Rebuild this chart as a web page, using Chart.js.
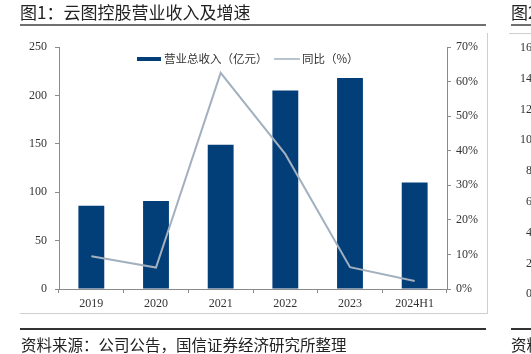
<!DOCTYPE html>
<html>
<head>
<meta charset="utf-8">
<script src="https://cdn.jsdelivr.net/npm/chart.js"></script>
<style>
  body { margin: 0; width: 531px; height: 354px; overflow: hidden; background: #fff; position: relative; font-family: "Noto Sans CJK SC", sans-serif; color: #222; }
  #chart { position: absolute; left: 0; top: 0; }
  .txt { position: absolute; white-space: nowrap; line-height: 1; }
  .hl { position: absolute; }
  .tk { position: absolute; font-family: "Liberation Serif", serif; font-size: 12px; color: #333; text-align: right; width: 30px; line-height: 1; }
</style>
</head>
<body>
<canvas id="chart" width="531" height="354"></canvas>

<!-- titre et source -->
<div class="txt" style="left:20px;top:3px;font-size:17px;">图1：云图控股营业收入及增速</div>
<div class="hl" style="left:20px;top:24px;width:466px;height:2px;background:#707070;"></div>
<div class="hl" style="left:487px;top:33px;width:1px;height:281px;background:#cfcfcf;"></div>
<div class="hl" style="left:20px;top:313px;width:468px;height:1px;background:#cfcfcf;"></div>
<div class="hl" style="left:20px;top:328px;width:466px;height:1.5px;background:#333;"></div>
<div class="txt" style="left:21px;top:337px;font-size:15.5px;">资料来源：公司公告，国信证券经济研究所整理</div>

<!-- graphique voisin coupé -->
<div class="txt" style="left:511px;top:3px;font-size:17px;">图2：</div>
<div class="hl" style="left:511px;top:24px;width:20px;height:2px;background:#707070;"></div>
<div class="hl" style="left:509px;top:33px;width:22px;height:1px;background:#cfcfcf;"></div>
<div class="hl" style="left:511px;top:328px;width:20px;height:1.5px;background:#333;"></div>
<div class="txt" style="left:511px;top:337px;font-size:15.5px;">资料</div>
<div id="ticks2"></div>

<script>
// Données du graphique
const categories = ['2019', '2020', '2021', '2022', '2023', '2024H1'];
const seriesNames = ['营业总收入（亿元）', '同比（%）'];
const revenue = [86, 91, 149, 205, 218, 110];   // 亿元
const growth = [9.5, 6.2, 62.5, 39, 6.3, 2.3];  // %
const neighbourTicks = ['16', '14', '12', '10', '8', '6', '4', '2', '0'];

const barColor = '#023f78';
const lineColor = '#a2b0bf';
const axisColor = '#8a8a8a';
const tickFont = { family: '"Liberation Serif", serif', size: 12 };

// étiquettes de l'axe du graphique voisin
const t2 = document.getElementById('ticks2');
neighbourTicks.forEach((t, i) => {
  const d = document.createElement('div');
  d.className = 'tk';
  d.style.left = '502px';
  d.style.top = (41 + i * 30.8) + 'px';
  d.textContent = t;
  t2.appendChild(d);
});

// légende dessinée dans la zone du graphique
const legendInside = {
  id: 'legendInside',
  afterDraw(chart) {
    const c = chart.ctx;
    c.save();
    c.font = '11.5px "Noto Sans CJK SC"';
    c.textBaseline = 'middle';
    c.fillStyle = barColor;
    c.fillRect(137, 57, 24, 4);
    c.fillStyle = '#333';
    c.fillText(seriesNames[0], 164, 59);
    c.strokeStyle = lineColor;
    c.lineWidth = 1.5;
    c.beginPath();
    c.moveTo(274, 59);
    c.lineTo(300, 59);
    c.stroke();
    c.fillText(seriesNames[1], 302, 59);
    c.restore();
  }
};

new Chart(document.getElementById('chart'), {
  type: 'bar',
  data: {
    labels: categories,
    datasets: [
      {
        type: 'line',
        label: seriesNames[1],
        data: growth,
        yAxisID: 'y1',
        borderColor: lineColor,
        borderWidth: 2,
        pointRadius: 0,
        tension: 0,
        order: 0
      },
      {
        label: seriesNames[0],
        data: revenue,
        yAxisID: 'y',
        backgroundColor: barColor,
        categoryPercentage: 1,
        barPercentage: 0.4,
        order: 1
      }
    ]
  },
  options: {
    responsive: false,
    animation: false,
    layout: { padding: { top: 47, left: 0, right: 0, bottom: 0 } },
    plugins: { legend: { display: false }, tooltip: { enabled: false } },
    scales: {
      x: {
        grid: { display: true, drawOnChartArea: false, drawTicks: true, tickLength: 4, color: axisColor, offset: true },
        border: { color: axisColor },
        ticks: { font: tickFont, color: '#333', padding: 4, maxRotation: 0 },
        afterFit: s => { s.height = 65; }
      },
      y: {
        position: 'left',
        min: 0,
        max: 250,
        grid: { drawOnChartArea: false, tickLength: 4, color: axisColor },
        border: { color: axisColor },
        ticks: { stepSize: 50, font: tickFont, color: '#333', padding: 8 },
        afterFit: s => { s.width = 59; }
      },
      y1: {
        position: 'right',
        min: 0,
        max: 70,
        grid: { drawOnChartArea: false, tickLength: 4, color: axisColor },
        border: { color: axisColor },
        ticks: { stepSize: 10, font: tickFont, color: '#333', padding: 5, callback: v => v + '%' },
        afterFit: s => { s.width = 84; }
      }
    }
  },
  plugins: [legendInside]
});
</script>
</body>
</html>
